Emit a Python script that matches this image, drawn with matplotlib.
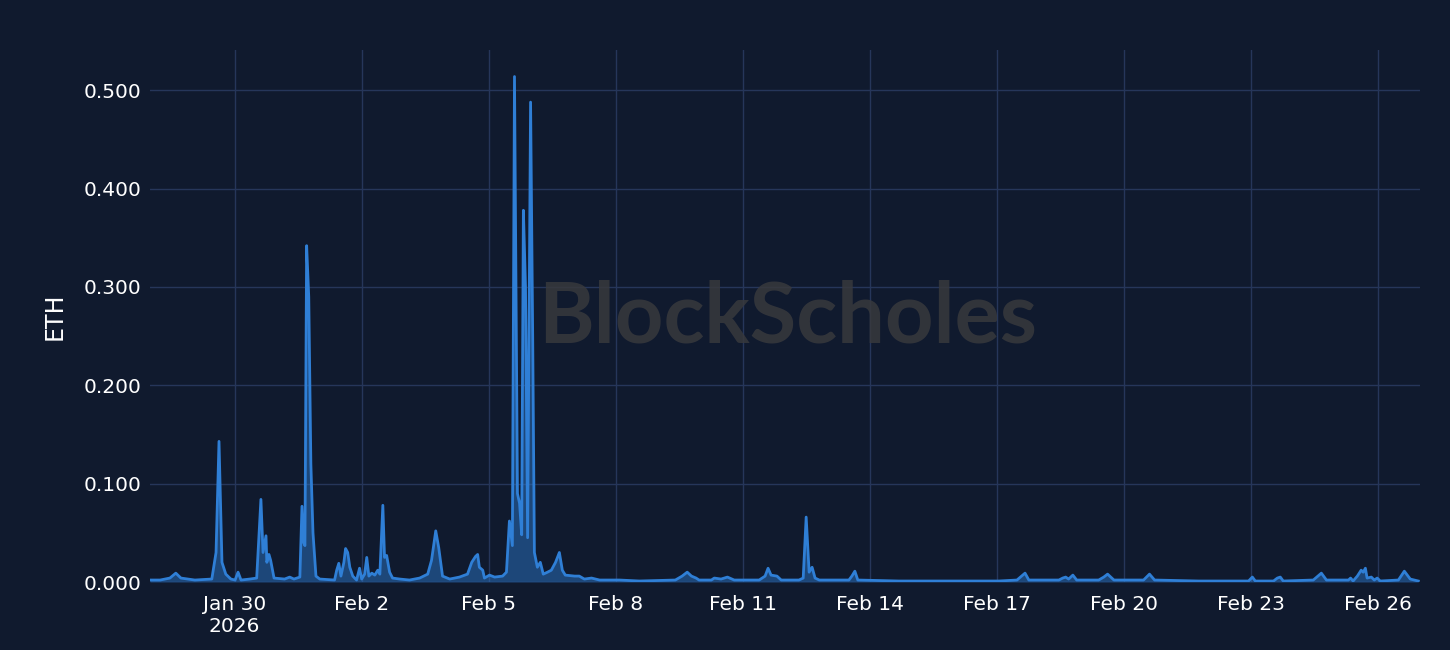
import datetime as dt
import matplotlib
matplotlib.use("Agg")
import matplotlib.pyplot as plt

# ETH series: days after 2026-01-28 00:00 and value
t_days = [0.00, 0.24, 0.47, 0.61, 0.73, 1.06, 1.46, 1.56, 1.63, 1.70, 1.79, 1.91,
          2.01, 2.08, 2.15, 2.36, 2.52, 2.62, 2.67, 2.74, 2.76, 2.81, 2.85, 2.93,
          3.18, 3.30, 3.40, 3.54, 3.59, 3.63, 3.66, 3.70, 3.75, 3.80, 3.85, 3.92,
          4.01, 4.36, 4.41, 4.46, 4.51, 4.58, 4.62, 4.67, 4.72, 4.79, 4.88, 4.95,
          5.00, 5.07, 5.12, 5.17, 5.24, 5.31, 5.38, 5.43, 5.50, 5.54, 5.59, 5.66,
          5.73, 5.90, 6.13, 6.37, 6.56, 6.65, 6.75, 6.82, 6.91, 7.08, 7.31, 7.50,
          7.60, 7.69, 7.74, 7.78, 7.86, 7.90, 8.02, 8.14, 8.33, 8.42, 8.49, 8.56,
          8.61, 8.68, 8.73, 8.78, 8.82, 8.87, 8.92, 8.99, 9.04, 9.08, 9.15, 9.22,
          9.29, 9.39, 9.48, 9.58, 9.67, 9.74, 9.81, 10.03, 10.14, 10.26, 10.43, 10.62,
          11.09, 11.56, 12.41, 12.57, 12.69, 12.79, 12.90, 12.97, 13.26, 13.33, 13.49, 13.64,
          13.80, 14.39, 14.53, 14.60, 14.67, 14.81, 14.91, 15.33, 15.43, 15.50, 15.57, 15.64,
          15.71, 15.81, 16.51, 16.58, 16.65, 16.72, 17.69, 18.87, 20.05, 20.48, 20.67, 20.76,
          21.47, 21.56, 21.63, 21.70, 21.80, 21.89, 22.41, 22.53, 22.62, 22.77, 23.47, 23.61,
          23.73, 24.77, 25.95, 26.04, 26.11, 26.54, 26.63, 26.70, 26.77, 27.48, 27.67, 27.79,
          28.31, 28.36, 28.42, 28.52, 28.61, 28.66, 28.71, 28.75, 28.85, 28.92, 28.99, 29.06,
          29.49, 29.63, 29.77, 29.96]
eth = [0.002, 0.002, 0.004, 0.009, 0.004, 0.002, 0.003, 0.030, 0.143, 0.020, 0.008, 0.003,
       0.002, 0.010, 0.002, 0.003, 0.004, 0.084, 0.030, 0.047, 0.020, 0.028, 0.022, 0.004,
       0.003, 0.005, 0.003, 0.005, 0.077, 0.040, 0.037, 0.342, 0.290, 0.120, 0.050, 0.006,
       0.003, 0.002, 0.012, 0.019, 0.006, 0.020, 0.034, 0.030, 0.015, 0.006, 0.002, 0.014,
       0.003, 0.008, 0.025, 0.006, 0.009, 0.007, 0.012, 0.008, 0.078, 0.025, 0.027, 0.010,
       0.004, 0.003, 0.002, 0.004, 0.008, 0.022, 0.052, 0.035, 0.006, 0.003, 0.005, 0.008,
       0.020, 0.026, 0.028, 0.015, 0.012, 0.004, 0.007, 0.005, 0.006, 0.010, 0.062, 0.037,
       0.514, 0.090, 0.080, 0.048, 0.378, 0.300, 0.045, 0.488, 0.250, 0.030, 0.015, 0.020,
       0.008, 0.010, 0.012, 0.020, 0.030, 0.012, 0.007, 0.006, 0.006, 0.003, 0.004, 0.002,
       0.002, 0.001, 0.002, 0.006, 0.010, 0.006, 0.004, 0.002, 0.002, 0.004, 0.003, 0.005,
       0.002, 0.002, 0.006, 0.014, 0.007, 0.006, 0.002, 0.002, 0.004, 0.066, 0.010, 0.015,
       0.004, 0.002, 0.002, 0.006, 0.011, 0.002, 0.001, 0.001, 0.001, 0.002, 0.009, 0.002,
       0.002, 0.004, 0.005, 0.003, 0.007, 0.002, 0.002, 0.005, 0.008, 0.002, 0.002, 0.008,
       0.002, 0.001, 0.001, 0.005, 0.001, 0.001, 0.004, 0.005, 0.001, 0.002, 0.009, 0.002,
       0.002, 0.004, 0.001, 0.006, 0.012, 0.010, 0.014, 0.004, 0.005, 0.002, 0.004, 0.001,
       0.002, 0.011, 0.003, 0.001]

tick_dates = ["2026-01-30", "2026-02-02", "2026-02-05", "2026-02-08", "2026-02-11",
              "2026-02-14", "2026-02-17", "2026-02-20", "2026-02-23", "2026-02-26"]
tick_labels = ["Jan 30\n2026", "Feb 2", "Feb 5", "Feb 8", "Feb 11",
               "Feb 14", "Feb 17", "Feb 20", "Feb 23", "Feb 26"]
y_ticks = [0.0, 0.1, 0.2, 0.3, 0.4, 0.5]

bg = "#101a2e"
grid_col = "#26365a"
line_col = "#2f7fd6"

start = dt.datetime(2026, 1, 28)
times = [start + dt.timedelta(days=d) for d in t_days]

fig = plt.figure(figsize=(14.5, 6.5), dpi=100, facecolor=bg)
ax = fig.add_axes([150 / 1450, 68 / 650, 1270 / 1450, 532 / 650])
ax.set_facecolor(bg)

ax.fill_between(times, eth, 0, color=line_col, alpha=0.45, lw=0, zorder=3)
ax.plot(times, eth, color=line_col, lw=2, zorder=4)

# watermark
ax.text(0.502, 0.497, "BlockScholes", transform=ax.transAxes, fontsize=61,
        family="Lato", weight="bold", color="#38393d", alpha=0.85,
        ha="center", va="center", zorder=2)

ax.set_xlim(start, start + dt.timedelta(days=30))
ax.set_ylim(0, 0.541)

ax.set_xticks([dt.datetime.strptime(s, "%Y-%m-%d") for s in tick_dates])
ax.set_xticklabels(tick_labels)
ax.set_yticks(y_ticks)
ax.set_yticklabels(["%.3f" % v for v in y_ticks])

ax.grid(True, color=grid_col, lw=1, zorder=0)
ax.set_axisbelow(True)
for s in ax.spines.values():
    s.set_visible(False)
ax.tick_params(colors="white", labelsize=14.5, length=0, pad=6)
ax.tick_params(axis="x", pad=9)
ax.set_ylabel("ETH", color="white", fontsize=17, labelpad=12)

fig.savefig("out.png", facecolor=bg)
